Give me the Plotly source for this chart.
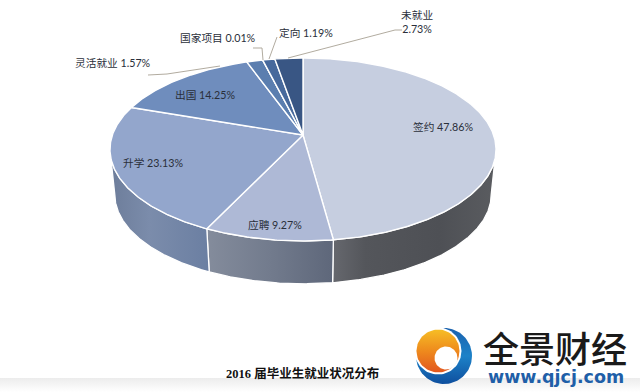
import numpy as np
import plotly.graph_objects as go

categories = ["签约", "应聘", "升学", "出国", "灵活就业", "国家项目", "定向", "未就业"]
values = [47.86, 9.27, 23.13, 14.25, 1.57, 0.01, 1.19, 2.73]
top_colors = ["#c6cee0", "#aeb9d6", "#93a6cc", "#6f8dbd", "#5b7eaf", "#4f7099", "#47699c", "#395684"]
title_text = "2016 届毕业生就业状况分布"
logo_text = "全景财经"
logo_url = "www.qjcj.com"

# perspective model of the disc
CX, CY, A, B, K = 303.0, 135.0, 190.6, 89.2, 0.158
SHRINK, DEPTH = 0.975, 45.5
LABEL_FONT = "Lato, 'Noto Sans CJK SC', sans-serif"
TAN_R = np.degrees(np.arccos(-K))
TAN_L = 360 - TAN_R


def rim(t0, t1, bottom=False):
    n = max(int(abs(t1 - t0) * 2), 2)
    th = np.radians(np.linspace(t0, t1, n))
    d = 1 + K * np.cos(th)
    x = A * np.sin(th) / d
    y = B * np.cos(th) / d
    if bottom:
        x, y = x * SHRINK, y * SHRINK - DEPTH
    return CX + x, CY - y


edges = np.concatenate([[0], np.cumsum(values)]) / sum(values) * 360
fig = go.Figure()

# faint grey fade along the bottom edge of the picture
fig.add_trace(go.Scatter(
    x=[0, 640, 640, 0, 0], y=[378, 378, 392, 392, 378], mode="lines", fill="toself",
    line=dict(width=0), hoverinfo="skip", showlegend=False,
    fillgradient=dict(type="vertical", colorscale=[[0, "#ffffff"], [1, "#ececec"]])))

side_scales = {
    0: [[0, "#66686e"], [0.2, "#54565b"], [0.65, "#4e5055"], [1, "#5a5c60"]],
    1: [[0, "#848c9c"], [0.5, "#727b8d"], [1, "#5e677a"]],
    2: [[0, "#6d7d9a"], [0.4, "#7b8cab"], [1, "#6b7fa2"]],
}
side_span = {0: (TAN_R, edges[1]), 1: (edges[1], edges[2]), 2: (edges[2], TAN_L)}
for i, (t0, t1) in side_span.items():
    xt, yt = rim(t0, t1)
    xb, yb = rim(t1, t0, bottom=True)
    fig.add_trace(go.Scatter(
        x=np.r_[xt, xb, xt[0]], y=np.r_[yt, yb, yt[0]], mode="lines", fill="toself",
        line=dict(color="white", width=1.3),
        fillgradient=dict(type="horizontal", colorscale=side_scales[i]),
        hoverinfo="skip", showlegend=False))

for i, name in enumerate(categories):
    xr, yr = rim(edges[i], edges[i + 1])
    fig.add_trace(go.Scatter(
        x=np.r_[CX, xr, CX], y=np.r_[CY, yr, CY], mode="lines", fill="toself",
        fillcolor=top_colors[i], line=dict(color="white", width=1.4),
        name=name, showlegend=False, hoverinfo="skip"))

# leader lines
leaders = [
    ([288, 395, 402], [58, 30, 30]),
    ([220, 167, 148], [66, 74, 75]),
    ([263, 262, 253], [60, 48, 48]),
    ([269, 277], [59, 37]),
]
for lx, ly in leaders:
    fig.add_trace(go.Scatter(x=lx, y=ly, mode="lines", line=dict(color="#a8a294", width=0.9),
                             hoverinfo="skip", showlegend=False))


def disc(cx, cy, r, **kw):
    th = np.linspace(0, 2 * np.pi, 90)
    fig.add_trace(go.Scatter(x=cx + r * np.cos(th), y=cy + r * np.sin(th), mode="lines", fill="toself",
                             line=dict(width=0), hoverinfo="skip", showlegend=False, **kw))


# logo
disc(444, 356, 28, fillgradient=dict(type="vertical", colorscale=[[0, "#0f4f9e"], [0.5, "#1d82c8"], [1, "#1a62ae"]]))
disc(438, 351, 23.5, fillcolor="white")
disc(438, 351, 21.5, fillgradient=dict(type="vertical", colorscale=[[0, "#e2571f"], [0.5, "#ee8a1d"], [1, "#f6bd25"]]))
disc(446, 358, 11.5, fillcolor="white")

positions = [(443, 126), (275, 224), (153, 162), (205, 94), (113, 62), (218, 37), (306, 32)]
annots = []
for i, pos in enumerate(positions):
    annots.append(dict(x=pos[0], y=pos[1], text=f"{categories[i]} {values[i]:.2f}%", showarrow=False,
                       font=dict(family=LABEL_FONT, size=10.7, color="#2a2f3a")))
annots.append(dict(x=417, y=21, text=f"{categories[7]}<br>{values[7]:.2f}%", showarrow=False,
                   font=dict(family=LABEL_FONT, size=10.7, color="#2a2f3a")))
annots.append(dict(x=302, y=373, text=title_text, showarrow=False,
                   font=dict(family="'Liberation Serif', 'Noto Sans CJK SC', serif", size=12.5, color="#111111", weight="bold")))
annots.append(dict(x=555, y=347, text=logo_text, showarrow=False,
                   font=dict(family="'Noto Sans CJK SC', sans-serif", size=36, color="#1a1a1a", weight=500)))
annots.append(dict(x=556, y=377, text=logo_url, showarrow=False,
                   font=dict(family="'DejaVu Sans', sans-serif", size=17.5, color="#1f5fa8", weight="bold")))

fig.update_layout(
    width=640, height=392, margin=dict(l=0, r=0, t=0, b=0),
    paper_bgcolor="white", plot_bgcolor="white", annotations=annots,
    xaxis=dict(range=[0, 640], visible=False, fixedrange=True),
    yaxis=dict(range=[392, 0], visible=False, fixedrange=True),
)
fig.write_html("out.html", config={"displayModeBar": False},
               post_script="document.body.style.margin='0';document.body.style.overflow='hidden';")
